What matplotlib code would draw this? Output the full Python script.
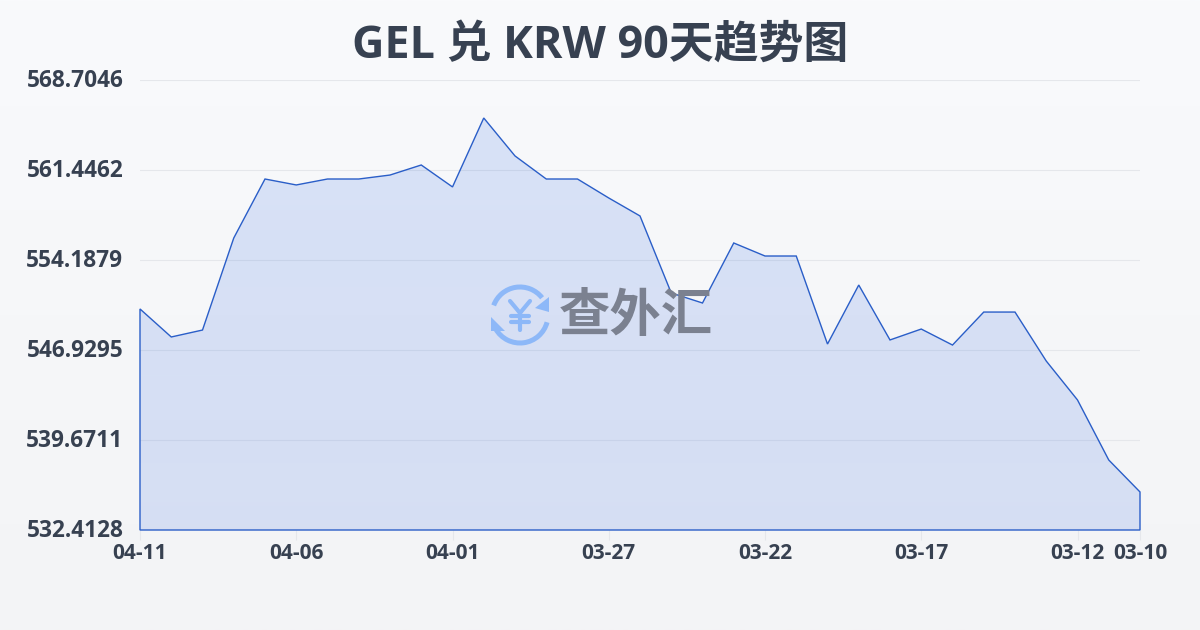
import numpy as np
import matplotlib
import matplotlib.pyplot as plt
from matplotlib.patches import Arc, Polygon
from matplotlib.transforms import ScaledTranslation

matplotlib.use('agg')

plt.rcParams['font.family'] = ['Open Sans', 'Noto Sans CJK SC', 'DejaVu Sans']

titulo = 'GEL 兑 KRW 90天趋势图'
marca = '查外汇'

fechas = ['04-11', '04-10', '04-09', '04-08', '04-07', '04-06', '04-05', '04-04', '04-03',
          '04-02', '04-01', '03-31', '03-30', '03-29', '03-28', '03-27', '03-26', '03-25',
          '03-24', '03-23', '03-22', '03-21', '03-20', '03-19', '03-18', '03-17', '03-16',
          '03-15', '03-14', '03-13', '03-12', '03-11', '03-10']
valores = [550.24, 547.98, 548.54, 555.96, 560.72, 560.24, 560.72, 560.72, 561.04,
           561.85, 560.08, 565.64, 562.58, 560.72, 560.72, 559.19, 557.74, 551.53,
           550.72, 555.56, 554.51, 554.51, 547.41, 552.17, 547.74, 548.62, 547.33,
           549.99, 549.99, 546.04, 542.90, 538.06, 535.48]
fechas_visibles = ['04-11', '04-06', '04-01', '03-27', '03-22', '03-17', '03-12', '03-10']
ticks_y = [532.4128, 539.6711, 546.9295, 554.1879, 561.4462, 568.7046]

AZUL = '#2a5ec8'
TEXTO = '#374151'

fig = plt.figure(figsize=(12, 6.3), dpi=100)

# fondo con degradado
fondo = fig.add_axes([0, 0, 1, 1], zorder=0)
fondo.imshow(np.linspace(0, 1, 256).reshape(-1, 1), aspect='auto', extent=[0, 1, 0, 1],
             cmap=matplotlib.colors.LinearSegmentedColormap.from_list('fondo', ['#f9fafc', '#f3f4f6']))
fondo.axis('off')

ax = fig.add_axes([140 / 1200, 100 / 630, 1000 / 1200, 450 / 630], zorder=1)
ax.patch.set_alpha(0)
x = np.arange(len(valores))

ax.set_yticks(ticks_y)
ax.set_yticklabels([f'{v:.4f}' for v in ticks_y], fontsize=16.3, fontweight='bold', color=TEXTO)
ax.set_xticks([fechas.index(f) for f in fechas_visibles])
ax.set_xticklabels(fechas_visibles, fontsize=15, fontweight='bold', color=TEXTO)
ax.tick_params(axis='y', length=0, pad=12)
ax.tick_params(axis='x', length=7.5, width=0.8, color='#e5e7eb', pad=2)
ax.grid(axis='y', color='#e5e7eb', linewidth=0.8)
ax.set_axisbelow(True)
for lado in ax.spines.values():
    lado.set_visible(False)

# area con degradado recortada al poligono
puntos = list(zip(x, valores)) + [(x[-1], ticks_y[0]), (x[0], ticks_y[0])]
borde = Polygon(puntos, closed=True, facecolor='none', edgecolor=AZUL, linewidth=1.0, zorder=4,
                joinstyle='miter', clip_on=False)
gradiente = np.zeros((256, 1, 4))
gradiente[..., 0] = np.linspace(0.235, 0.165, 256).reshape(-1, 1)
gradiente[..., 1] = np.linspace(0.450, 0.380, 256).reshape(-1, 1)
gradiente[..., 2] = np.linspace(0.900, 0.870, 256).reshape(-1, 1)
gradiente[..., 3] = np.linspace(0.17, 0.15, 256).reshape(-1, 1)
img = ax.imshow(gradiente, aspect='auto', zorder=2,
                extent=[x[0], x[-1], ticks_y[0], ticks_y[-1]], origin='upper')
ax.add_patch(borde)
img.set_clip_path(Polygon(puntos, closed=True, transform=ax.transData))
ax.set_xlim(0, len(valores) - 1)
ax.set_ylim(ticks_y[0], ticks_y[-1])
# las etiquetas de y van un poco mas arriba que la linea
subir = ScaledTranslation(0, 1.5 / 72, fig.dpi_scale_trans)
for etiqueta in ax.get_yticklabels():
    etiqueta.set_transform(etiqueta.get_transform() + subir)

# capa en pixeles para titulo y marca de agua
capa = fig.add_axes([0, 0, 1, 1], zorder=3)
capa.set_xlim(0, 1200)
capa.set_ylim(630, 0)
capa.axis('off')
capa.text(600, 46, titulo, ha='center', va='center', fontsize=32.3, fontweight='bold', color=TEXTO)

# icono de la marca
ICONO = '#8db8f8'
cx, cy, diam = 520, 315, 56
capa.add_patch(Arc((cx, cy), diam, diam, theta1=200, theta2=322, color=ICONO, lw=3.6))
capa.add_patch(Arc((cx, cy), diam, diam, theta1=15, theta2=150, color=ICONO, lw=3.6))
capa.add_patch(Polygon([(491, 317), (491, 331), (505, 331)], closed=True, color=ICONO, lw=0))
capa.add_patch(Polygon([(549, 297), (549, 312), (535, 308)], closed=True, color=ICONO, lw=0))
for xs, ys in [([510, 520, 530], [301, 313, 301]), ([511, 529], [316, 316]),
               ([511, 529], [322, 322]), ([520, 520], [313, 330])]:
    capa.plot(xs, ys, color=ICONO, lw=3.0, solid_capstyle='round', solid_joinstyle='round')
capa.set_xlim(0, 1200)
capa.set_ylim(630, 0)
capa.text(636, 318, marca, ha='center', va='center', fontsize=37, fontweight='bold', color='#7b8190')

fig.savefig('out.png', dpi=100)
